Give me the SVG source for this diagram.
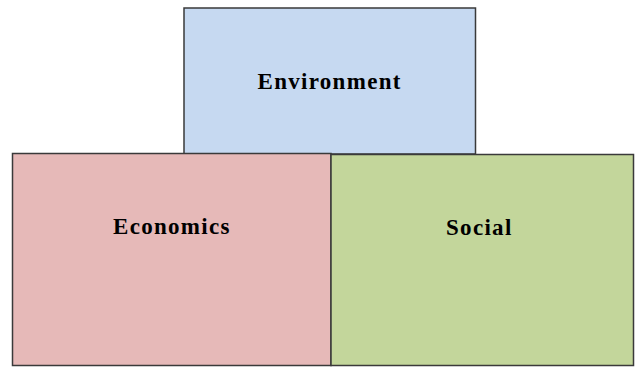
<svg xmlns="http://www.w3.org/2000/svg" width="635" height="367" viewBox="0 0 635 367">
<style>
.box{stroke:#3a3a3a;stroke-width:1.5}
.lbl{font-family:"Liberation Serif","Times New Roman",serif;font-weight:bold;font-size:23px;letter-spacing:1.3px;fill:#000}
</style>
<rect width="635" height="367" fill="#fff"/>
<g id="environment">
<rect class="box" x="184" y="8" width="291.5" height="146" fill="#c6d9f1"/>
<text class="lbl" x="257.5" y="89">Environment</text>
</g>
<g id="economics">
<rect class="box" x="12.5" y="153.5" width="318.5" height="212" fill="#e6b9b8"/>
<text class="lbl" x="113" y="234">Economics</text>
</g>
<g id="social">
<rect class="box" x="331" y="154.5" width="302.5" height="211" fill="#c3d69b"/>
<text class="lbl" x="446" y="235">Social</text>
</g>
<g id="connectors"/>
</svg>
